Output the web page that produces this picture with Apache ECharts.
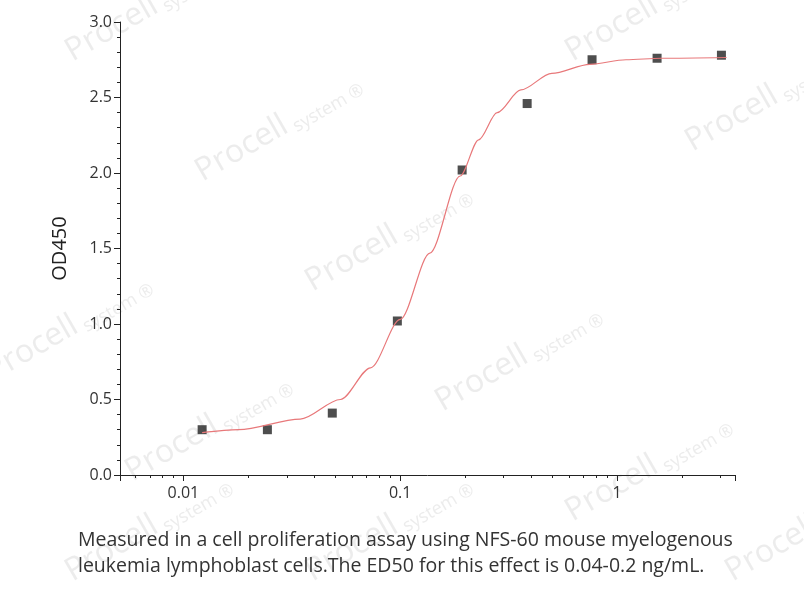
<!DOCTYPE html>
<html>
<head>
<meta charset="utf-8">
<script src="https://cdn.jsdelivr.net/npm/echarts@6/dist/echarts.min.js"></script>
<style>
html,body{margin:0;padding:0;background:#fff;}
#chart{width:804px;height:600px;}
</style>
</head>
<body>
<div id="chart"></div>
<script>
// measured points (concentration ng/mL, OD450)
const conc = [0.0122, 0.0244, 0.0486, 0.097, 0.193, 0.385, 0.767, 1.53, 3.03];
const od = [0.30, 0.30, 0.41, 1.02, 2.02, 2.46, 2.75, 2.76, 2.78];
// fitted curve
const fitX = [0.0122, 0.018, 0.0346, 0.053, 0.073, 0.1, 0.137, 0.189, 0.23, 0.28, 0.36, 0.5, 0.75, 1.1, 1.6, 3.2];
const fitY = [0.28, 0.30, 0.37, 0.50, 0.71, 1.03, 1.47, 1.98, 2.22, 2.40, 2.55, 2.66, 2.72, 2.75, 2.76, 2.765];
const yTicks = ['0.0', '0.5', '1.0', '1.5', '2.0', '2.5', '3.0'];

const myChart = echarts.init(document.getElementById('chart'));

// watermark
const marks = [];
const wmPos = [[60,40],[190,160],[300,270],[430,390],[560,40],[680,130],[120,460],[-20,360],[560,500],[720,560],[60,560],[300,560]];
wmPos.forEach(p => {
	marks.push({
		type: 'text', x: p[0], y: p[1], rotation: Math.PI / 6, silent: true, z: -1,
		style: {text: 'Procell', fill: 'rgba(200,200,200,0.35)', font: '32px "Open Sans"'}
	}, {
		type: 'text', x: p[0] + 100, y: p[1] - 40, rotation: Math.PI / 6, silent: true, z: -1,
		style: {text: 'system ®', fill: 'rgba(200,200,200,0.35)', font: '18px "Open Sans"'}
	});
});
marks.push({
	type: 'text', left: 78, top: 527,
	style: {
		text: 'Measured in a cell proliferation assay using NFS-60 mouse myelogenous\nleukemia lymphoblast cells.The ED50 for this effect is 0.04-0.2 ng/mL.',
		fill: '#333', font: '19.5px "Open Sans"', lineHeight: 26
	}
});

myChart.setOption({
	animation: false,
	graphic: marks,
	grid: {left: 120, right: 69, top: 22, bottom: 125},
	xAxis: {
		type: 'log', logBase: 10, min: 0.0051, max: 3.5,
		axisLine: {lineStyle: {color: '#222'}},
		axisTick: {show: true, length: 6, lineStyle: {color: '#222'}},
		minorTick: {show: true, splitNumber: 9, length: 3, lineStyle: {color: '#222'}},
		axisLabel: {
			color: '#333', fontSize: 16, fontFamily: 'Open Sans', margin: 10,
			formatter: v => ({0.01: '0.01', 0.1: '0.1', 1: '1'})[+v.toPrecision(3)] || ''
		},
		splitLine: {show: false}
	},
	yAxis: {
		type: 'value', min: 0, max: 3, interval: 0.5,
		name: 'OD450', nameLocation: 'middle', nameGap: 50,
		nameTextStyle: {color: '#222', fontSize: 20, fontFamily: 'Open Sans'},
		axisLine: {show: true, lineStyle: {color: '#222'}},
		axisTick: {show: true, length: 6, lineStyle: {color: '#222'}},
		minorTick: {show: true, splitNumber: 5, length: 3, lineStyle: {color: '#222'}},
		axisLabel: {color: '#333', fontSize: 16, fontFamily: 'Open Sans', formatter: (v, i) => yTicks[i]},
		splitLine: {show: false}
	},
	series: [{
		type: 'line', smooth: 0.3, smoothMonotone: 'x', showSymbol: false,
		data: fitX.map((x, i) => [x, fitY[i]]),
		lineStyle: {color: '#e8787a', width: 1.2}
	}, {
		type: 'scatter', symbol: 'rect', symbolSize: 9,
		data: conc.map((x, i) => [x, od[i]]),
		itemStyle: {color: '#222'}
	}]
});
</script>
</body>
</html>
